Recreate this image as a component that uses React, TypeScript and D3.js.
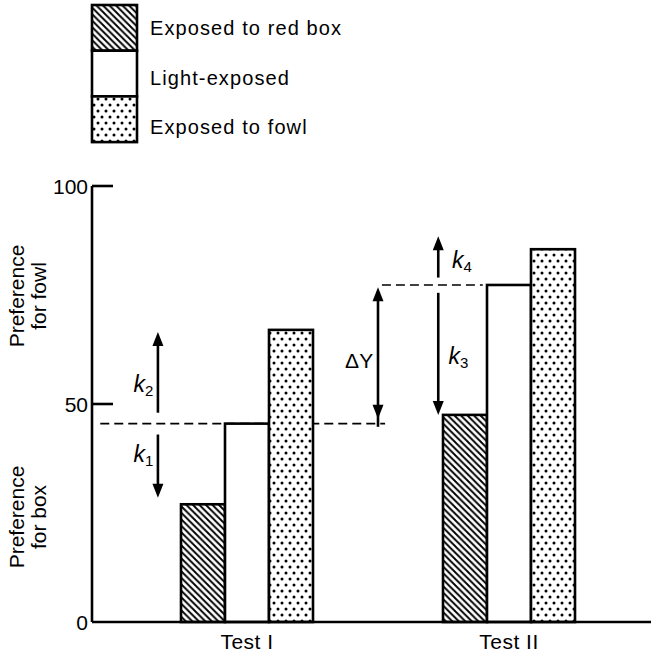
import React from "react";
import * as d3 from "d3";

const categories = ["Test I", "Test II"];
const seriesNames = ["Exposed to red box", "Light-exposed", "Exposed to fowl"];
const redBox = [27, 47.5];
const lightExposed = [45.5, 77.3];
const fowl = [67, 85.5];
const yTicks = [0, 50, 100];
const yTitleTop = ["Preference", "for fowl"];
const yTitleBottom = ["Preference", "for box"];

// annotation arrows: [x (in group-index units), from value, to value, label, subscript]
const arrowX = [-0.34, -0.34, 0.5, 0.73, 0.73];
const arrowFrom = [48, 43, 46.6, 79, 75.5];
const arrowTo = [66.5, 28.5, 76.8, 88.5, 47.5];
const arrowBoth = [false, false, true, false, false];
const arrowLabel = ["k", "k", "ΔY", "k", "k"];
const arrowSub = ["2", "1", "", "4", "3"];
const labelDX = [-0.055, -0.055, -0.072, 0.09, 0.077];
const labelVal = [54.5, 38.5, 60, 83, 61];

// reference dashed lines: [x0, x1 in group-index units, value]
const refX0 = [-0.56, 0.515];
const refX1 = [0.527, 0.9];
const refVal = [45.5, 77.3];

const W = 651;
const H = 656;

export default function App() {
  const y = d3.scaleLinear().domain([0, 100]).range([622, 186]);
  const xG = d3.scaleLinear().domain([0, 1]).range([247, 509]);
  const xS = d3.scaleBand().domain(seriesNames).range([-66, 66]).paddingInner(0);
  const axisX = 92;
  const values = [redBox, lightExposed, fowl];
  const fills = ["url(#hatch)", "#fff", "url(#dots)"];
  const font = "'Liberation Sans', Arial, Helvetica, sans-serif";

  const arrowHead = (x: number, yTip: number, dir: number) => {
    const hl = 14, hw = 5.5;
    return `M${x},${yTip} L${x - hw},${yTip - dir * hl} L${x + hw},${yTip - dir * hl} Z`;
  };

  return (
    <svg width={W} height={H} viewBox={`0 0 ${W} ${H}`} style={{ display: "block", position: "absolute", left: 0, top: 0 }}>
      <defs>
        <pattern id="hatch" patternUnits="userSpaceOnUse" width={6.5} height={6.5}>
          <rect width={6.5} height={6.5} fill="#fff" />
          <path d="M-1,-1 L7.5,7.5 M-1,5.5 L1,7.5 M5.5,-1 L7.5,1" stroke="#000" strokeWidth={1.9} />
        </pattern>
        <pattern id="dots" patternUnits="userSpaceOnUse" width={8} height={12}>
          <rect width={8} height={12} fill="#fff" />
          <circle cx={2} cy={3} r={1.5} fill="#000" />
          <circle cx={6} cy={9} r={1.5} fill="#000" />
        </pattern>
      </defs>
      <rect width={W} height={H} fill="#fff" />

      {/* legend */}
      {seriesNames.map((s, i) => (
        <g key={s}>
          <rect x={92} y={5 + i * 45.7} width={45} height={45.7} fill={fills[i]} stroke="#000" strokeWidth={2.6} />
          <text x={150} y={28 + i * 49.5} dominantBaseline="central" fontFamily={font} fontSize={20} letterSpacing={1.1} fill="#000">
            {s}
          </text>
        </g>
      ))}

      {/* reference dashed lines */}
      {refVal.map((v, i) => (
        <line key={i} x1={xG(refX0[i])} x2={xG(refX1[i])} y1={y(v)} y2={y(v)} stroke="#000" strokeWidth={1.6} strokeDasharray="9 5" />
      ))}

      {/* bars */}
      {categories.map((c, gi) => (
        <g key={c}>
          {seriesNames.map((s, si) => {
            const x0 = xG(gi) + (xS(s) as number);
            const v = values[si][gi];
            return (
              <rect key={s} x={x0} y={y(v)} width={xS.bandwidth()} height={y(0) - y(v)} fill={fills[si]} stroke="#000" strokeWidth={2.6} />
            );
          })}
          <text x={xG(gi)} y={641} textAnchor="middle" dominantBaseline="central" fontFamily={font} fontSize={21} letterSpacing={0.5} fill="#000">
            {c}
          </text>
        </g>
      ))}

      {/* axes */}
      <line x1={axisX} x2={axisX} y1={y(100)} y2={y(0)} stroke="#000" strokeWidth={2.6} />
      <line x1={axisX} x2={W} y1={y(0)} y2={y(0)} stroke="#000" strokeWidth={2.6} />
      {yTicks.map((t) => (
        <g key={t}>
          {t > 0 && <line x1={axisX} x2={axisX + 21} y1={y(t)} y2={y(t)} stroke="#000" strokeWidth={2.6} />}
          <text x={axisX - 4} y={y(t)} textAnchor="end" dominantBaseline="central" fontFamily={font} fontSize={21} fill="#000">
            {t}
          </text>
        </g>
      ))}

      {/* y titles */}
      {[yTitleTop, yTitleBottom].map((lines, k) => (
        <text key={k} transform={`translate(${30},${k === 0 ? 296 : 517}) rotate(-90)`} textAnchor="middle" fontFamily={font} fontSize={21} fill="#000">
          {lines.map((l, j) => (
            <tspan key={j} x={0} dy={j === 0 ? "-0.3em" : "1.05em"}>
              {l}
            </tspan>
          ))}
        </text>
      ))}

      {/* arrows */}
      {arrowX.map((ax, i) => {
        const x = xG(ax);
        const y0 = y(arrowFrom[i]);
        const y1 = y(arrowTo[i]);
        const dir = y1 > y0 ? 1 : -1;
        return (
          <g key={i}>
            <line x1={x} x2={x} y1={arrowBoth[i] ? y0 - dir * 8 : y0} y2={y1 - dir * 8} stroke="#000" strokeWidth={2.6} />
            <path d={arrowHead(x, y1, dir)} fill="#000" />
            {arrowBoth[i] && <path d={arrowHead(x, y0, -dir)} fill="#000" />}
            <text x={xG(ax + labelDX[i])} y={y(labelVal[i])} textAnchor="middle" dominantBaseline="central" fontFamily={font} fill="#000">
              {arrowSub[i] ? (
                <>
                  <tspan fontStyle="italic" fontSize={23}>{arrowLabel[i]}</tspan>
                  <tspan fontSize={15} dy={6}>{arrowSub[i]}</tspan>
                </>
              ) : (
                <tspan fontSize={21}>{arrowLabel[i]}</tspan>
              )}
            </text>
          </g>
        );
      })}
    </svg>
  );
}
